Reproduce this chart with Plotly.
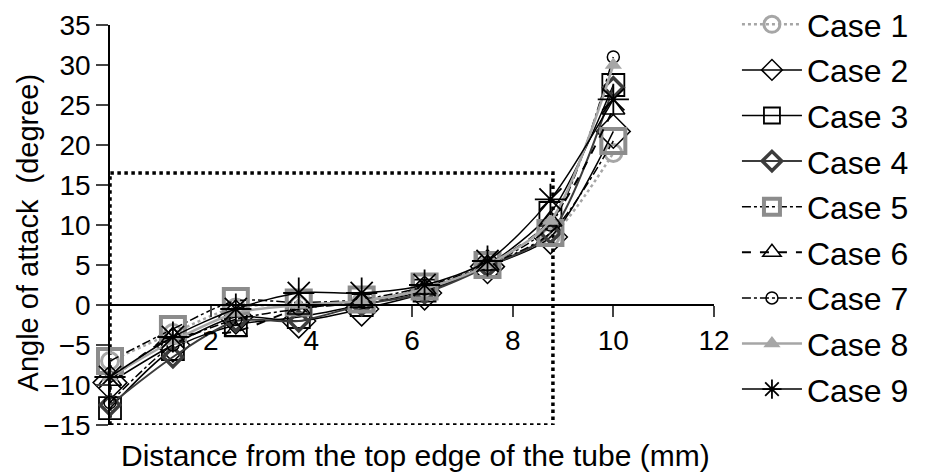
import plotly.graph_objects as go

distance = [0, 1.25, 2.5, 3.75, 5, 6.25, 7.5, 8.75, 10]
case_names = ["Case 1", "Case 2", "Case 3", "Case 4", "Case 5",
              "Case 6", "Case 7", "Case 8", "Case 9"]
case1 = [-7.0, -3.5, -0.3, 0.0, 0.5, 2.0, 5.0, 8.5, 19.0]
case2 = [-9.7, -5.0, -1.5, -2.0, -0.5, 1.5, 4.8, 8.5, 21.7]
case3 = [-12.9, -5.5, -2.5, -1.5, 0.0, 1.8, 5.0, 11.5, 27.5]
case4 = [-12.5, -6.5, -2.0, -2.0, 0.0, 1.5, 4.8, 9.0, 27.2]
case5 = [-7.0, -3.0, 0.5, 0.3, 0.7, 2.3, 5.0, 9.0, 20.5]
case6 = [-9.4, -4.0, -3.3, -0.5, 0.3, 2.0, 5.0, 10.5, 24.5]
case7 = [-12.2, -5.0, -1.8, -0.5, 0.5, 2.0, 5.0, 10.0, 31.0]
case8 = [-9.0, -4.5, -1.0, 0.0, 0.5, 2.0, 5.0, 10.5, 30.0]
case9 = [-9.0, -4.0, -0.5, 1.5, 1.5, 2.5, 5.5, 13.2, 25.7]
zoom_box_x = [0, 8.8]
zoom_box_y = [-15, 16.5]
x_ticks = [2, 4, 6, 8, 10, 12]
y_ticks = [-15, -10, -5, 0, 5, 10, 15, 20, 25, 30, 35]

series = [case1, case2, case3, case4, case5, case6, case7, case8, case9]
styles = [
    dict(symbol="circle-open", size=17, mcolor="#a6a6a6", mw=3, lcolor="#a6a6a6", dash="dot", lw=2.5),
    dict(symbol="diamond-open", size=26, mcolor="black", mw=1.5, lcolor="black", dash="solid", lw=1.5),
    dict(symbol="square-open", size=22, mcolor="black", mw=1.8, lcolor="black", dash="solid", lw=1.5),
    dict(symbol="diamond-open", size=15, mcolor="#3c3c3c", mw=3.5, lcolor="#3c3c3c", dash="solid", lw=2),
    dict(symbol="square-open", size=24, mcolor="#8c8c8c", mw=4, lcolor="black", dash="dashdot", lw=1.5),
    dict(symbol="triangle-up-open", size=20, mcolor="black", mw=1.5, lcolor="black", dash="dash", lw=2),
    dict(symbol="circle-open", size=12, mcolor="black", mw=1.5, lcolor="black", dash="dashdot", lw=1.5),
    dict(symbol="triangle-up", size=15, mcolor="#a6a6a6", mw=0, lcolor="#a6a6a6", dash="solid", lw=2.5),
    dict(symbol="asterisk-open", size=26, mcolor="black", mw=1.8, lcolor="black", dash="solid", lw=1.5),
]

fig = go.Figure()

# dotted zoom rectangle
fig.add_trace(go.Scatter(
    x=[zoom_box_x[0], zoom_box_x[1], zoom_box_x[1], zoom_box_x[0], zoom_box_x[0]],
    y=[zoom_box_y[0], zoom_box_y[0], zoom_box_y[1], zoom_box_y[1], zoom_box_y[0]],
    mode="lines", line=dict(color="black", width=3.5, dash="dot"),
    showlegend=False, hoverinfo="skip", cliponaxis=False))

for name, vals, st in zip(case_names, series, styles):
    fig.add_trace(go.Scatter(
        x=distance, y=vals, name=name, mode="lines+markers",
        line=dict(color=st["lcolor"], width=st["lw"], dash=st["dash"], shape="spline", smoothing=0.8),
        marker=dict(symbol=st["symbol"], size=st["size"], color=st["mcolor"],
                    line=dict(color=st["mcolor"], width=st["mw"])),
        legendgroup=name, cliponaxis=False))

font = "Liberation Sans, Arial, sans-serif"
fig.update_layout(
    width=923, height=468,
    margin=dict(l=102, r=217, t=17, b=51, autoexpand=False),
    plot_bgcolor="white", paper_bgcolor="white",
    font=dict(family=font, color="black", size=28),
    showlegend=True,
    legend=dict(x=1.038, y=1.07, xanchor="left", yanchor="top",
                font=dict(size=32, family=font), tracegroupgap=1,
                traceorder="grouped", itemwidth=60, bgcolor="rgba(0,0,0,0)",
                maxheight=1.0),
    xaxis=dict(range=[0, 12], anchor="free", position=0.3, automargin=False,
               tickvals=x_ticks, ticks="outside", ticklen=11, tickwidth=1.5,
               showline=True, linecolor="black", linewidth=1.5,
               showgrid=False, zeroline=False, tickfont=dict(size=28)),
    yaxis=dict(range=[-15, 35], tickvals=y_ticks, ticks="outside", ticklen=12, tickwidth=1.5,
               showline=True, linecolor="black", linewidth=1.5, automargin=False,
               showgrid=False, zeroline=False, tickfont=dict(size=28)),
    annotations=[
        dict(text="Distance from the top edge of the tube (mm)", xref="paper", yref="paper",
             x=0.505, y=-0.075, xanchor="center", yanchor="middle", showarrow=False,
             font=dict(size=30)),
        dict(text="Angle of attack  (degree)", xref="paper", yref="paper",
             x=-0.135, y=0.4825, xanchor="center", yanchor="middle", showarrow=False,
             textangle=-90, font=dict(size=29)),
    ],
)

fig.write_html("out.html")
